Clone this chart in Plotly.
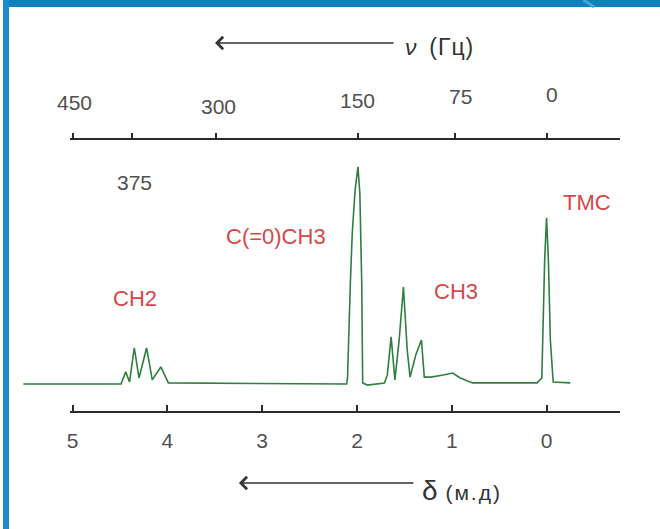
import plotly.graph_objects as go

# ---------------- data ----------------
# chemical shift (ppm) and intensity (arbitrary units) of the spectrum trace
delta = [5.52, 4.49, 4.44, 4.40, 4.35, 4.30, 4.22, 4.16, 4.07, 3.99,
         2.11, 2.10, 2.07, 2.05, 2.02, 1.99, 1.97, 1.95, 1.94, 1.89,
         1.71, 1.68, 1.64, 1.60, 1.555, 1.51, 1.47, 1.44, 1.38, 1.32,
         1.29, 1.22, 1.09, 0.99, 0.91, 0.78, 0.10, 0.05, 0.02, 0.0,
         -0.02, -0.04, -0.07, -0.25]
intensity = [0, 0, 5.6, 0.9, 16.7, 2.8, 16.7, 1.9, 7.9, 0.5,
             0, 2.8, 46.8, 69.9, 89.8, 100.5, 88.4, 46.8, 0.5, -0.5,
             0.5, 4.2, 21.8, 1.9, 20.4, 44.9, 15.7, 3.2, 13.4, 20.4,
             3.2, 3.2, 4.2, 5.1, 2.8, 0.5, 0.5, 2.8, 57.4, 76.9,
             56.5, 20.4, 0.9, 0.5]

delta_ticks = [5, 4, 3, 2, 1, 0]
delta_ticktext = ["5", "4", "3", "2", "1", "0"]

hz_labels = ["450", "375", "300", "150", "75", "0"]
hz_delta_equiv = [5.0, 4.37, 3.49, 1.99, 0.97, 0.0]

group_labels = ["CH2", "C(=0)CH3", "CH3", "TMC"]
group_delta = [4.34, 2.85, 0.96, -0.43]
group_intensity = [39.8, 68.1, 42.6, 83.8]

# ---------------- figure ----------------
W, H = 660, 529
FONT = "Liberation Sans, Arial, sans-serif"
AXC = "#2a2a2a"
TXT = "#505050"
RED = "#d64848"
GREEN = "#2f7f3f"

def py(px):  # pixel row -> paper y
    return 1 - px / H

fig = go.Figure()
fig.add_trace(go.Scatter(x=delta, y=intensity, mode="lines",
                         line=dict(color=GREEN, width=1.6),
                         showlegend=False, hoverinfo="skip"))
# carriers for the drawn axes
fig.add_trace(go.Scatter(x=[None], y=[None], xaxis="x2", yaxis="y",
                         showlegend=False, hoverinfo="skip"))
fig.add_trace(go.Scatter(x=[None], y=[None], xaxis="x3", yaxis="y",
                         showlegend=False, hoverinfo="skip"))

ax_dom = [67 / W, 620 / W]
full_rng = [5.735, -1.197]
part_rng = [(546 - 67) / 95.2, (546 - 620) / 95.2]

fig.update_layout(
    width=W, height=H,
    margin=dict(l=0, r=0, t=0, b=0),
    paper_bgcolor="white", plot_bgcolor="rgba(0,0,0,0)",
    font=dict(family=FONT, color=TXT),
    xaxis=dict(domain=[0, 1], range=full_rng, visible=False),
    yaxis=dict(domain=[0, 1], range=[-67.13, 177.78], visible=False),
    xaxis2=dict(domain=ax_dom, range=part_rng, anchor="free",
                position=py(412), side="bottom", showline=True,
                linecolor=AXC, linewidth=2, ticks="inside", ticklen=6,
                tickwidth=1.5, tickcolor=AXC, tickvals=delta_ticks,
                ticktext=delta_ticktext, showgrid=False, zeroline=False,
                tickfont=dict(size=21, color=TXT, family=FONT),
                ticklabelstandoff=10),
    xaxis3=dict(domain=ax_dom, range=part_rng, anchor="free",
                position=py(139), side="top", showline=True,
                linecolor=AXC, linewidth=2, ticks="outside", ticklen=5,
                tickwidth=1.5, tickcolor=AXC, tickvals=hz_delta_equiv,
                showticklabels=False, showgrid=False, zeroline=False),
)

# blue slide frame
fig.add_shape(type="rect", xref="paper", yref="paper", x0=0, x1=1,
              y0=py(7), y1=1, fillcolor="#0f7fbd", line_width=0, layer="above")
fig.add_shape(type="rect", xref="paper", yref="paper", x0=0, x1=6 / W,
              y0=0, y1=1, fillcolor="#1a8bcb", line_width=0, layer="above")
fig.add_shape(type="line", xref="paper", yref="paper", x0=583 / W, x1=594 / W,
              y0=1, y1=py(7), line=dict(color="#4ea3d6", width=3), layer="above")

# Hz labels (staggered as in the original drawing)
hz_label_rows = [103, 183, 107, 100, 97, 95]
hz_label_dx = [2, 2, 3, 0, 6, 5]
for lab, d, row, dx in zip(hz_labels, hz_delta_equiv, hz_label_rows, hz_label_dx):
    fig.add_annotation(x=d, y=py(row), xref="x", yref="paper", text=lab,
                       showarrow=False, xshift=dx, xanchor="center",
                       yanchor="middle",
                       font=dict(size=21, color=TXT, family=FONT))

# group labels
for lab, d, v in zip(group_labels, group_delta, group_intensity):
    fig.add_annotation(x=d, y=v, xref="x", yref="y", text=lab, showarrow=False,
                       xanchor="center", yanchor="middle",
                       font=dict(size=22, color=RED, family=FONT))

# axis titles with arrows
fig.add_annotation(x=213 / W, y=py(43), xref="paper", yref="paper",
                   ax=180, ay=0, axref="pixel", ayref="pixel", text="",
                   showarrow=True, arrowhead=4, arrowsize=1.6,
                   arrowwidth=1.5, arrowcolor="#333")
fig.add_annotation(x=402 / W, y=py(47), xref="paper", yref="paper",
                   xanchor="left", yanchor="middle", showarrow=False,
                   text="<i>ν</i>\u00a0 <span style='letter-spacing:1px'>(Гц)</span>",
                   font=dict(size=23, color="#333", family=FONT))
fig.add_annotation(x=237 / W, y=py(483), xref="paper", yref="paper",
                   ax=176, ay=0, axref="pixel", ayref="pixel", text="",
                   showarrow=True, arrowhead=4, arrowsize=1.6,
                   arrowwidth=1.5, arrowcolor="#333")
fig.add_annotation(x=419 / W, y=py(490), xref="paper", yref="paper",
                   xanchor="left", yanchor="middle", showarrow=False,
                   text="δ<span style='font-size:21px;letter-spacing:2px'> (м.д)</span>",
                   font=dict(size=28, color="#333", family=FONT))

fig.write_html("out.html", config={"displayModeBar": False},
               post_script="document.body.style.margin='0';"
                           "document.body.style.padding='0';")
